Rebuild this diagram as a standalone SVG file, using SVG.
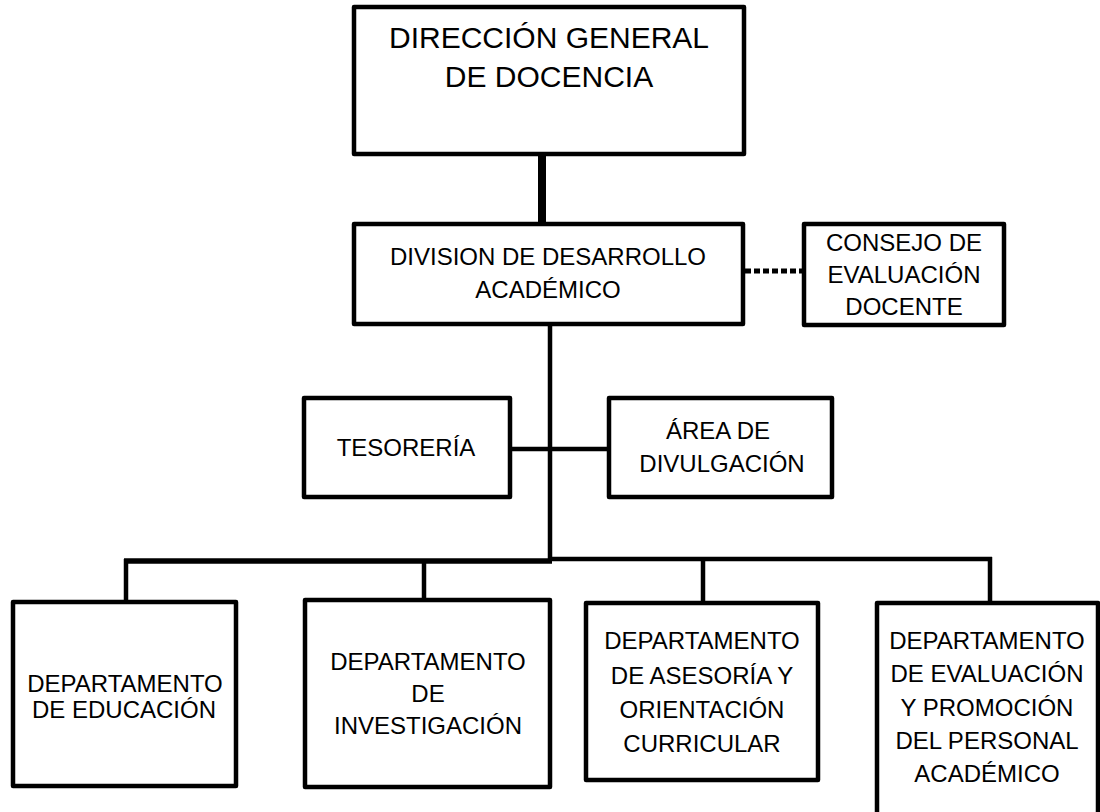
<svg xmlns="http://www.w3.org/2000/svg" width="1100" height="812" viewBox="0 0 1100 812">
  <style>
    .box { fill: #ffffff; stroke: #000000; stroke-width: 4.5; stroke-linejoin: round; }
    .lbl { font-family: "Liberation Sans", Arial, sans-serif; fill: #000000; text-anchor: middle; font-size: 24px; }
    .big { font-size: 30px; }
    .conn { stroke: #000000; fill: none; stroke-width: 4.5; }
  </style>
  <rect width="1100" height="812" fill="#ffffff"/>

  <g id="connectors">
    <line class="conn" x1="542" y1="154" x2="542" y2="224" style="stroke-width:8"/>
    <line class="conn" x1="745" y1="271" x2="802" y2="271" style="stroke-width:5;stroke-dasharray:6 3"/>
    <line class="conn" x1="550" y1="324" x2="550" y2="561"/>
    <line class="conn" x1="510" y1="449" x2="609" y2="449"/>
    <line class="conn" x1="124" y1="561" x2="552" y2="561" style="stroke-width:5.5"/>
    <line class="conn" x1="548" y1="559" x2="992" y2="559"/>
    <line class="conn" x1="126" y1="559" x2="126" y2="602"/>
    <line class="conn" x1="424" y1="559" x2="424" y2="600"/>
    <line class="conn" x1="703" y1="559" x2="703" y2="603"/>
    <line class="conn" x1="990" y1="557" x2="990" y2="603"/>
  </g>

  <g id="direccion">
    <rect class="box" x="354" y="7" width="390" height="147"/>
    <text class="lbl big" x="549" y="48">DIRECCIÓN GENERAL</text>
    <text class="lbl big" x="549" y="87">DE DOCENCIA</text>
  </g>

  <g id="division">
    <rect class="box" x="354" y="224" width="389" height="100"/>
    <text class="lbl" x="548" y="265">DIVISION DE DESARROLLO</text>
    <text class="lbl" x="548" y="298">ACADÉMICO</text>
  </g>

  <g id="consejo">
    <rect class="box" x="804" y="224" width="200" height="101"/>
    <text class="lbl" x="904" y="251">CONSEJO DE</text>
    <text class="lbl" x="904" y="283">EVALUACIÓN</text>
    <text class="lbl" x="904" y="315">DOCENTE</text>
  </g>

  <g id="tesoreria">
    <rect class="box" x="304" y="398" width="206" height="99"/>
    <text class="lbl" x="406" y="456">TESORERÍA</text>
  </g>

  <g id="divulgacion">
    <rect class="box" x="609" y="398" width="223" height="99"/>
    <text class="lbl" x="718" y="439">ÁREA DE</text>
    <text class="lbl" x="722" y="472">DIVULGACIÓN</text>
  </g>

  <g id="educacion">
    <rect class="box" x="13" y="602" width="223" height="184"/>
    <text class="lbl" x="125" y="692">DEPARTAMENTO</text>
    <text class="lbl" x="124" y="718">DE EDUCACIÓN</text>
  </g>

  <g id="investigacion">
    <rect class="box" x="305" y="600" width="245" height="187"/>
    <text class="lbl" x="428" y="670">DEPARTAMENTO</text>
    <text class="lbl" x="428" y="702">DE</text>
    <text class="lbl" x="428" y="734">INVESTIGACIÓN</text>
  </g>

  <g id="asesoria">
    <rect class="box" x="586" y="603" width="232" height="177"/>
    <text class="lbl" x="702" y="649">DEPARTAMENTO</text>
    <text class="lbl" x="702" y="684">DE ASESORÍA Y</text>
    <text class="lbl" x="702" y="718">ORIENTACIÓN</text>
    <text class="lbl" x="702" y="752">CURRICULAR</text>
  </g>

  <g id="evaluacion">
    <rect class="box" x="877" y="603" width="221" height="215"/>
    <text class="lbl" x="987" y="649">DEPARTAMENTO</text>
    <text class="lbl" x="987" y="682">DE EVALUACIÓN</text>
    <text class="lbl" x="987" y="716">Y PROMOCIÓN</text>
    <text class="lbl" x="987" y="749">DEL PERSONAL</text>
    <text class="lbl" x="987" y="782">ACADÉMICO</text>
  </g>
</svg>
